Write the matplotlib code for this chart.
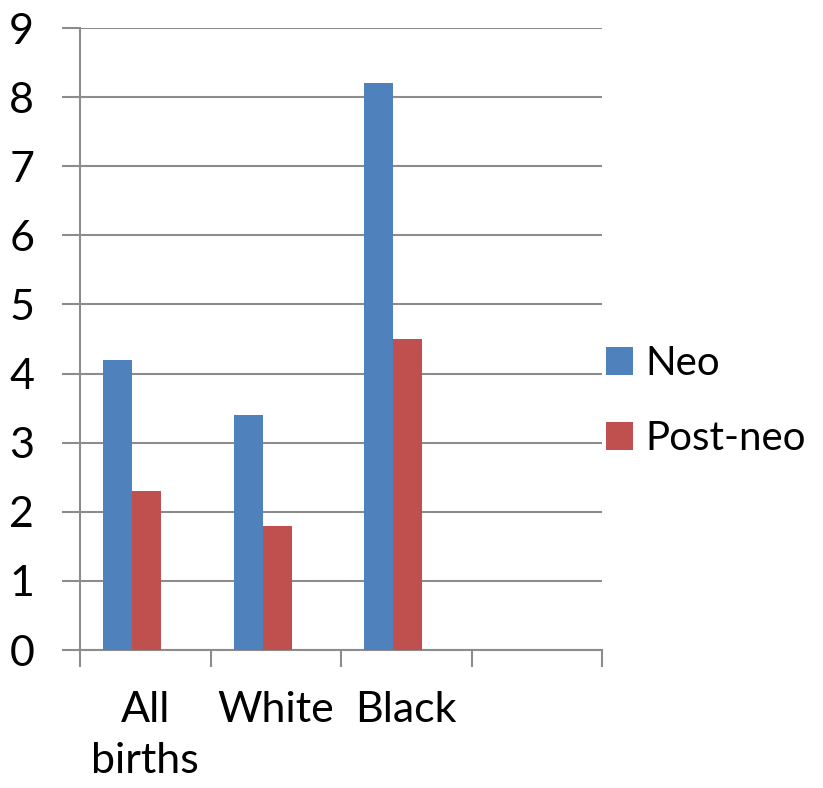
import numpy as np
import matplotlib.pyplot as plt

# dados
categorias = ["All\nbirths", "White", "Black", ""]
neo = [4.2, 3.4, 8.2]
post_neo = [2.3, 1.8, 4.5]
yticks = list(range(0, 10))

plt.rcParams['font.family'] = ['Lato', 'DejaVu Sans']

fig = plt.figure(figsize=(8.23, 7.88), dpi=100)
ax = fig.add_axes([80/823, 1-650/788, 522/823, 622/788])

grid_cor = '#8c8c8c'
largura = 0.223
x = np.arange(len(neo))
# serie vazia do excel empurra as barras para a esquerda
ax.bar(x - 0.323, neo, largura, align='edge', color='#4f81bd', label='Neo', zorder=3)
ax.bar(x - 0.1, post_neo, largura, align='edge', color='#c0504d', label='Post-neo', zorder=3)

ax.set_xlim(-0.5, len(categorias) - 0.5)
ax.set_ylim(0, 9)
ax.set_yticks(yticks)
ax.yaxis.grid(True, color=grid_cor, linewidth=1.5, zorder=0)

# ticks do eixo x nas fronteiras das categorias
ax.set_xticks(np.arange(len(categorias) + 1) - 0.5)
ax.set_xticklabels([])
for i, nome in enumerate(categorias):
    ax.text(i, -0.6, nome, ha='center', va='top', fontsize=31, linespacing=1.4)

for lado in ['top', 'right']:
    ax.spines[lado].set_visible(False)
for lado in ['left', 'bottom']:
    ax.spines[lado].set_color(grid_cor)
    ax.spines[lado].set_linewidth(1.5)

ax.tick_params(axis='y', length=13, width=1.5, color=grid_cor, labelsize=31, pad=20)
ax.tick_params(axis='x', length=12, width=1.5, color=grid_cor)

ax.legend(loc='center left', bbox_to_anchor=(1.008, 0.40), frameon=False, fontsize=29,
          handlelength=0.67, handleheight=0.67, handletextpad=0.3, labelspacing=0.95,
          borderaxespad=0.0, borderpad=0.0)

plt.savefig("out.png", dpi=100)
